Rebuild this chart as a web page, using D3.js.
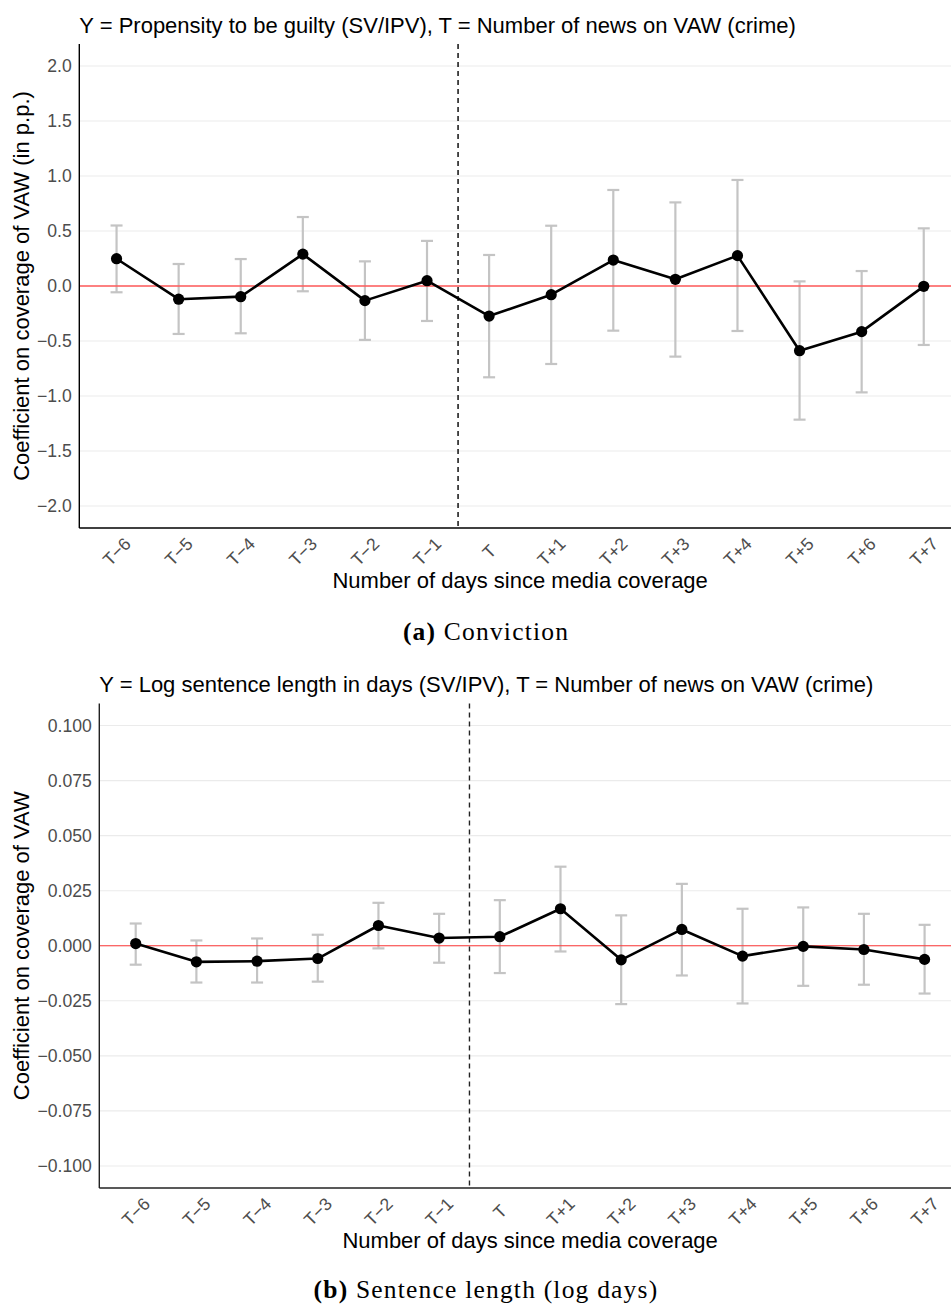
<!DOCTYPE html>
<html>
<head>
<meta charset="utf-8">
<script src="https://cdn.jsdelivr.net/npm/d3@7"></script>
<style>
  html, body { margin: 0; padding: 0; background: #ffffff; }
  svg { display: block; }
</style>
</head>
<body>
<svg id="fig" width="951" height="1304"></svg>
<script>
// Event-study categories (days relative to media coverage)
const days = ["T\u22126", "T\u22125", "T\u22124", "T\u22123", "T\u22122", "T\u22121",
              "T", "T+1", "T+2", "T+3", "T+4", "T+5", "T+6", "T+7"];

// Panel (a): conviction, coefficient in p.p. with 95% CI
const convCoef = [0.248, -0.120, -0.097, 0.290, -0.133, 0.048, -0.273, -0.079, 0.236, 0.061, 0.276, -0.588, -0.415, -0.003];
const convLow  = [-0.057, -0.436, -0.430, -0.048, -0.490, -0.318, -0.830, -0.709, -0.406, -0.642, -0.409, -1.215, -0.967, -0.536];
const convHigh = [0.550, 0.200, 0.245, 0.627, 0.224, 0.410, 0.282, 0.548, 0.873, 0.760, 0.964, 0.042, 0.136, 0.524];
const convTicks = [-2.0, -1.5, -1.0, -0.5, 0.0, 0.5, 1.0, 1.5, 2.0];

// Panel (b): log sentence length, coefficient with 95% CI
const sentCoef = [0.0010, -0.0073, -0.0070, -0.0058, 0.0092, 0.0035, 0.0041, 0.0168, -0.0064, 0.0074, -0.0047, -0.0003, -0.0017, -0.0062];
const sentLow  = [-0.0086, -0.0167, -0.0167, -0.0163, -0.0012, -0.0077, -0.0124, -0.0026, -0.0265, -0.0135, -0.0262, -0.0182, -0.0177, -0.0217];
const sentHigh = [0.0101, 0.0024, 0.0033, 0.0050, 0.0195, 0.0145, 0.0207, 0.0359, 0.0138, 0.0281, 0.0168, 0.0174, 0.0145, 0.0095];
const sentTicks = [-0.100, -0.075, -0.050, -0.025, 0.000, 0.025, 0.050, 0.075, 0.100];

const svg = d3.select("#fig");
const SANS = "'Liberation Sans', Arial, Helvetica, sans-serif";
const SERIF = "'Liberation Serif', 'Times New Roman', serif";

function drawPanel(p) {
  const g = svg.append("g");
  const x = d3.scalePoint().domain(days).range([p.left, p.right]).padding(0.6);
  const y = d3.scaleLinear().domain(p.domain).range([p.bottom, p.top]);
  const rows = days.map((d, i) => ({ day: d, coef: p.coef[i], lo: p.low[i], hi: p.high[i] }));

  // horizontal major gridlines
  g.append("g").selectAll("line").data(p.ticks).join("line")
    .attr("x1", p.left).attr("x2", p.right)
    .attr("y1", d => y(d)).attr("y2", d => y(d))
    .attr("stroke", "#ebebeb").attr("stroke-width", 1.1);

  // confidence intervals
  const cap = 6;
  const eb = g.append("g").attr("stroke", "#c4c4c4").attr("stroke-width", 2.2).attr("fill", "none");
  eb.selectAll("line.v").data(rows).join("line").attr("class", "v")
    .attr("x1", d => x(d.day)).attr("x2", d => x(d.day))
    .attr("y1", d => y(d.lo)).attr("y2", d => y(d.hi));
  eb.selectAll("line.t").data(rows).join("line").attr("class", "t")
    .attr("x1", d => x(d.day) - cap).attr("x2", d => x(d.day) + cap)
    .attr("y1", d => y(d.hi)).attr("y2", d => y(d.hi));
  eb.selectAll("line.b").data(rows).join("line").attr("class", "b")
    .attr("x1", d => x(d.day) - cap).attr("x2", d => x(d.day) + cap)
    .attr("y1", d => y(d.lo)).attr("y2", d => y(d.lo));

  // zero reference line
  g.append("line")
    .attr("x1", p.left).attr("x2", p.right)
    .attr("y1", y(0)).attr("y2", y(0))
    .attr("stroke", p.zeroColor).attr("stroke-width", p.zeroWidth);

  // coverage day marker, halfway between T-1 and T
  const xv = (x("T\u22121") + x("T")) / 2;
  g.append("line")
    .attr("x1", xv).attr("x2", xv).attr("y1", p.top).attr("y2", p.bottom)
    .attr("stroke", p.dashColor).attr("stroke-width", 1.4)
    .attr("stroke-dasharray", "5,4");

  // coefficient path and points
  g.append("path").datum(rows)
    .attr("fill", "none").attr("stroke", "#000").attr("stroke-width", 2.6)
    .attr("stroke-linejoin", "round")
    .attr("d", d3.line().x(d => x(d.day)).y(d => y(d.coef)));
  g.append("g").selectAll("circle").data(rows).join("circle")
    .attr("cx", d => x(d.day)).attr("cy", d => y(d.coef)).attr("r", 5.6)
    .attr("fill", "#000");

  // axis lines
  g.append("line").attr("x1", p.left).attr("x2", p.left).attr("y1", p.top).attr("y2", p.bottom)
    .attr("stroke", p.axisColor).attr("stroke-width", 1.4);
  g.append("line").attr("x1", p.left).attr("x2", p.right).attr("y1", p.bottom).attr("y2", p.bottom)
    .attr("stroke", p.axisColor).attr("stroke-width", 1.4);

  // y tick labels
  const fmt = d3.format(p.fmt);
  g.append("g").selectAll("text").data(p.ticks).join("text")
    .attr("x", p.left - 7.5).attr("y", d => y(d)).attr("dy", "0.36em")
    .attr("text-anchor", "end")
    .attr("font-family", SANS).attr("font-size", 17.6).attr("fill", "#4d4d4d")
    .text(d => fmt(d));

  // x tick labels, rotated
  g.append("g").selectAll("text").data(days).join("text")
    .attr("transform", d => `translate(${x(d)},${p.bottom + 23.5}) rotate(-45)`)
    .attr("text-anchor", "middle").attr("dy", "0.36em")
    .attr("font-family", SANS).attr("font-size", 17.6).attr("fill", "#4d4d4d")
    .text(d => d);

  // titles
  g.append("text").attr("x", p.left).attr("y", p.titleY)
    .attr("font-family", SANS).attr("font-size", 22).attr("fill", "#000")
    .text(p.title);
  g.append("text").attr("x", (p.left + p.right) / 2).attr("y", p.bottom + 60)
    .attr("text-anchor", "middle")
    .attr("font-family", SANS).attr("font-size", 22).attr("fill", "#000")
    .text("Number of days since media coverage");
  g.append("text")
    .attr("transform", `translate(29,${(p.top + p.bottom) / 2}) rotate(-90)`)
    .attr("text-anchor", "middle")
    .attr("font-family", SANS).attr("font-size", 22).attr("fill", "#000")
    .text(p.yTitle);

  // panel caption
  const cp = g.append("text").attr("x", 486).attr("y", p.captionY)
    .attr("text-anchor", "middle")
    .attr("font-family", SERIF).attr("font-size", 25.5).attr("letter-spacing", 1.2)
    .attr("fill", "#000");
  cp.append("tspan").attr("font-weight", "bold").text(p.captionTag);
  cp.append("tspan").text(" " + p.caption);
}

drawPanel({
  left: 79.3, right: 961, top: 44, bottom: 528,
  domain: [-2.2, 2.2], ticks: convTicks, fmt: ".1f",
  coef: convCoef, low: convLow, high: convHigh,
  zeroColor: "#ff5a5a", zeroWidth: 1.6, dashColor: "#000", axisColor: "#000",
  title: "Y = Propensity to be guilty (SV/IPV), T = Number of news on VAW (crime)",
  titleY: 32.5,
  yTitle: "Coefficient on coverage of VAW (in p.p.)",
  captionTag: "(a)", caption: "Conviction", captionY: 640
});

drawPanel({
  left: 99.3, right: 961, top: 703.5, bottom: 1188,
  domain: [-0.11, 0.11], ticks: sentTicks, fmt: ".3f",
  coef: sentCoef, low: sentLow, high: sentHigh,
  zeroColor: "#ff3a3a", zeroWidth: 1.1, dashColor: "#222", axisColor: "#222",
  title: "Y = Log sentence length in days (SV/IPV), T = Number of news on VAW (crime)",
  titleY: 691.7,
  yTitle: "Coefficient on coverage of VAW",
  captionTag: "(b)", caption: "Sentence length (log days)", captionY: 1298
});
</script>
</body>
</html>
